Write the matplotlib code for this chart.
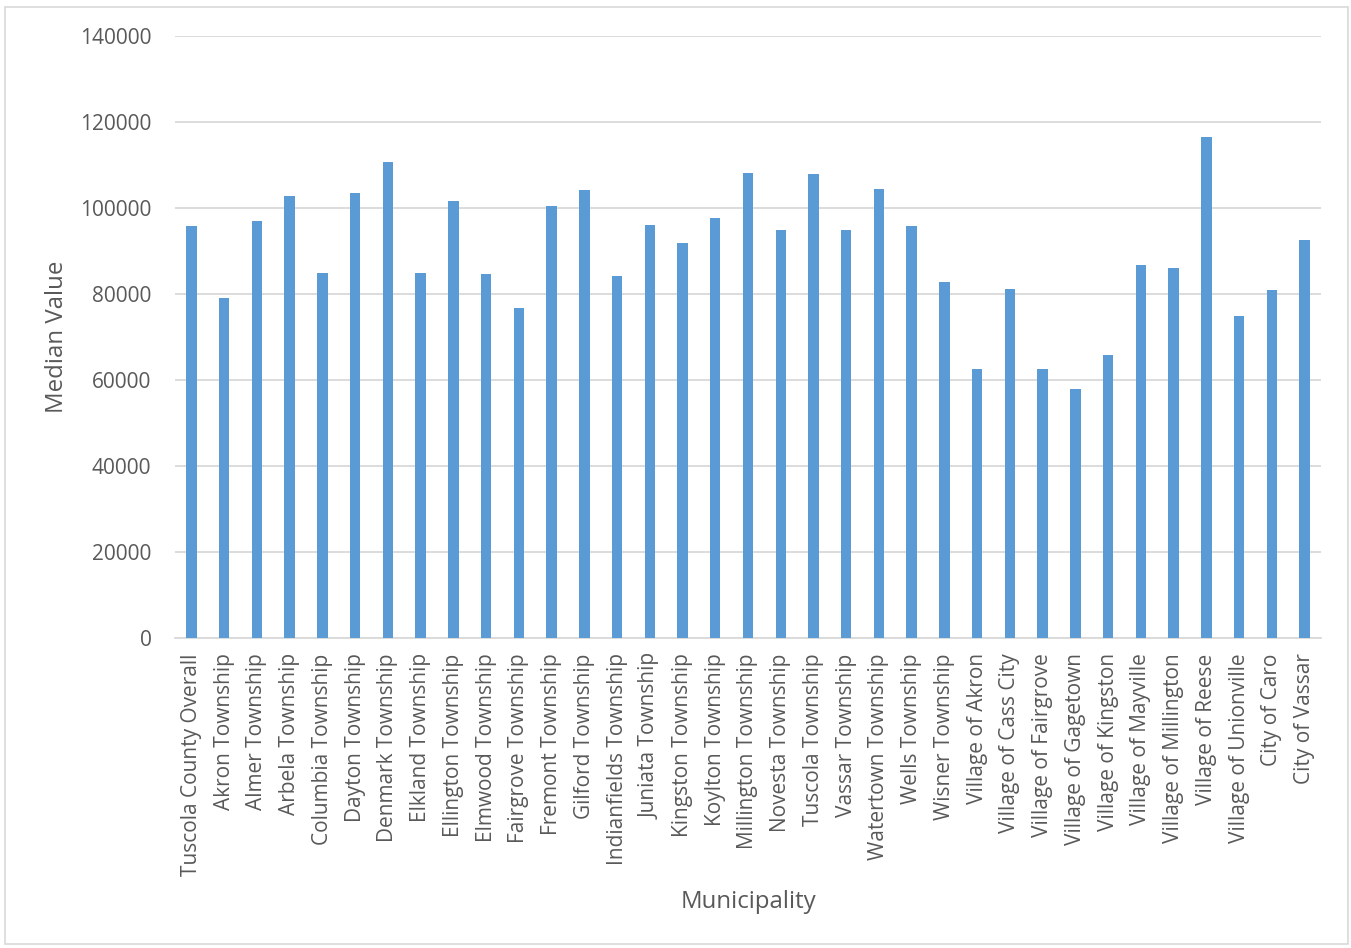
import matplotlib.pyplot as plt
from matplotlib.patches import Rectangle

plt.rcParams['font.family'] = ['Open Sans', 'DejaVu Sans']

municipalities = [
    'Tuscola County Overall', 'Akron Township', 'Almer Township', 'Arbela Township',
    'Columbia Township', 'Dayton Township', 'Denmark Township', 'Elkland Township',
    'Ellington Township', 'Elmwood Township', 'Fairgrove Township', 'Fremont Township',
    'Gilford Township', 'Indianfields Township', 'Juniata Township', 'Kingston Township',
    'Koylton Township', 'Millington Township', 'Novesta Township', 'Tuscola Township',
    'Vassar Township', 'Watertown Township', 'Wells Township', 'Wisner Township',
    'Village of Akron', 'Village of Cass City', 'Village of Fairgrove',
    'Village of Gagetown', 'Village of Kingston', 'Village of Mayville',
    'Village of Millington', 'Village of Reese', 'Village of Unionville',
    'City of Caro', 'City of Vassar',
]
median_value = [
    95700, 79100, 97000, 102900, 84900, 103600, 110800, 84900,
    101700, 84700, 76800, 100400, 104100, 84200, 96100, 91800,
    97600, 108100, 95000, 107800, 95000, 104400, 95700, 82700,
    62500, 81100, 62500, 57900, 65700, 86700, 86100, 116500,
    75000, 80900, 92500,
]
y_ticks = [0, 20000, 40000, 60000, 80000, 100000, 120000, 140000]

grid_c = '#D9D9D9'
text_c = '#595959'

fig = plt.figure(figsize=(13.51, 9.48), dpi=100)
fig.patches.append(Rectangle((5 / 1351, 4 / 948), 1343 / 1351, 937 / 948,
                             transform=fig.transFigure, fill=False,
                             edgecolor=grid_c, lw=1.2))
ax = fig.add_axes([175 / 1351, 310 / 948, 1146 / 1351, 602 / 948])

x = list(range(len(municipalities)))
ax.bar(x, median_value, width=0.32, color='#5B9BD5', zorder=3)

ax.set_xlim(-0.5, len(municipalities) - 0.5)
ax.set_ylim(0, 140000)
ax.set_yticks(y_ticks)
ax.set_yticklabels([str(v) for v in y_ticks])
ax.set_xticks(x)
ax.set_xticklabels(municipalities, rotation=90, va='top', ha='center')
ax.grid(axis='y', color=grid_c, lw=1.3, zorder=0)
ax.tick_params(axis='y', length=0, pad=17, labelsize=15, labelcolor=text_c)
ax.tick_params(axis='x', length=0, pad=11, labelsize=15, labelcolor=text_c)
for s in ['left', 'right', 'top']:
    ax.spines[s].set_visible(False)
ax.spines['bottom'].set_color(grid_c)
ax.spines['bottom'].set_linewidth(1.3)

fig.text(57 / 1351, 1 - 337 / 948, 'Median Value', rotation=90, ha='center',
         va='center', fontsize=17.3, color=text_c)
fig.text(748 / 1351, 1 - 902 / 948, 'Municipality', ha='center', va='center',
         fontsize=17.3, color=text_c)

fig.savefig('out.png', dpi=100)
